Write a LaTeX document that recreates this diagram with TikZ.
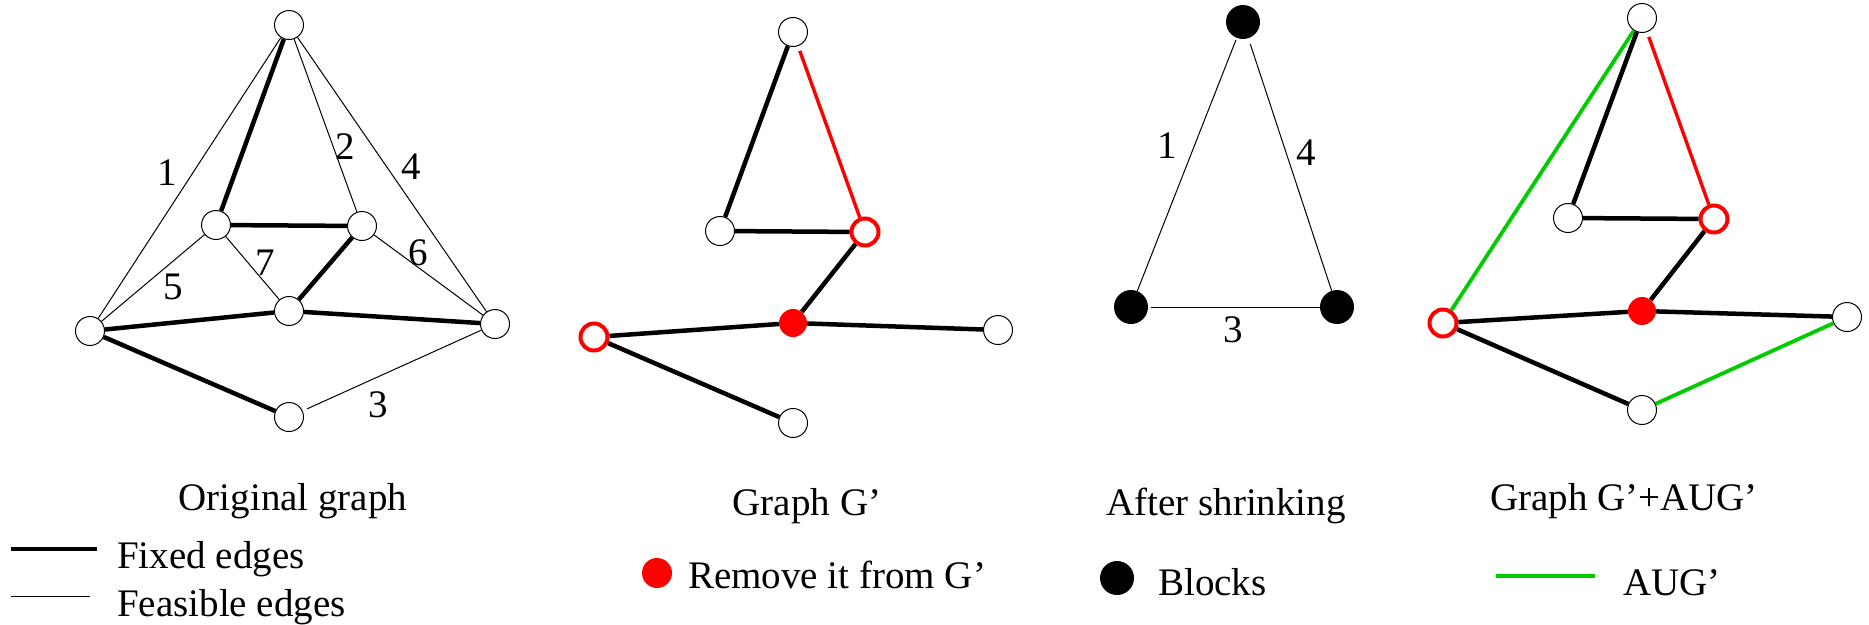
\documentclass[tikz,border=0pt]{standalone}
\usepackage{fontspec}
\setmainfont{Liberation Serif}
\definecolor{augGreen}{RGB}{0,204,0}
\begin{document}
\begin{tikzpicture}[x=1pt,y=-1pt,
  every node/.style={font=\fontsize{39}{44}\selectfont},
  vtx/.style={circle,draw=black,line width=1pt,fill=white,minimum size=29pt,inner sep=0pt},
  vred/.style={circle,draw=red,line width=4pt,fill=white,minimum size=27pt,inner sep=0pt},
  vredf/.style={circle,fill=red,minimum size=28pt,inner sep=0pt},
  vblk/.style={circle,fill=black,minimum size=34pt,inner sep=0pt},
  fixed/.style={line width=4.5pt,draw=black},
  feas/.style={line width=1pt,draw=black},
  remedge/.style={line width=3.4pt,draw=red},
  aug/.style={line width=3.8pt,draw=augGreen},
  lbl/.style={inner sep=0pt,anchor=center},
  captext/.style={inner sep=0pt,anchor=base},
  legtext/.style={inner sep=0pt,anchor=base west}]
\useasboundingbox (0,0) rectangle (1869,624);

% ---- Original graph ----
\node[vtx] (T)  at (289,25)  {};
\node[vtx] (A)  at (216,225) {};
\node[vtx] (B)  at (362,226) {};
\node[vtx] (C)  at (289,311) {};
\node[vtx] (L)  at (90,331)  {};
\node[vtx] (R)  at (495,324) {};
\node[vtx] (Bo) at (289,417) {};
\draw[feas] (T) -- (L);
\draw[feas] (T) -- (B);
\draw[feas] (T) -- (R);
\draw[feas] (A) -- (L);
\draw[feas] (A) -- (C);
\draw[feas] (B) -- (R);
\draw[feas,shorten <=5pt] (Bo) -- (R);
\draw[fixed] (T) -- (A);
\draw[fixed] (A) -- (B);
\draw[fixed] (B) -- (C);
\draw[fixed] (C) -- (L);
\draw[fixed] (C) -- (R);
\draw[fixed] (L) -- (Bo);
\node[lbl] (e1) at (167,173) {1};
\node[lbl] (e2) at (345,147) {2};
\node[lbl] (e4) at (411,167) {4};
\node[lbl] (e5) at (173,287) {5};
\node[lbl] (e7) at (265,263) {7};
\node[lbl] (e6) at (418,253) {6};
\node[lbl] (e3) at (378,405) {3};
\node[captext] (c1) at (293,510) {Original graph};

% ---- Graph G' ----
\node[vtx]   (T2)  at (793,32)  {};
\node[vtx]   (A2)  at (720,231) {};
\node[vred]  (B2)  at (865,232) {};
\node[vredf] (C2)  at (793,323) {};
\node[vred]  (L2)  at (594,337) {};
\node[vtx]   (R2)  at (998,330) {};
\node[vtx]   (Bo2) at (793,423) {};
\draw[fixed] (T2) -- (A2);
\draw[remedge,shorten <=5pt] (T2) -- (B2);
\draw[fixed] (A2) -- (B2);
\draw[fixed] (B2) -- (C2);
\draw[fixed] (C2) -- (L2);
\draw[fixed] (C2) -- (R2);
\draw[fixed] (L2) -- (Bo2);
\node[captext] (c2) at (807,515) {Graph G’};

% ---- After shrinking ----
\node[vblk] (S1) at (1243,22)  {};
\node[vblk] (S2) at (1131,307) {};
\node[vblk] (S3) at (1337,307) {};
\draw[feas,shorten <=2pt] (S1) -- (S2);
\draw[feas,shorten <=6pt] (S1) -- (S3);
\draw[feas,shorten <=3pt] (S2) -- (S3);
\node[lbl] (f1) at (1167,146) {1};
\node[lbl] (f4) at (1306,153) {4};
\node[lbl] (f3) at (1233,330) {3};
\node[captext] (c3) at (1226,515) {After shrinking};

% ---- Graph G'+AUG' ----
\node[vtx]   (T4)  at (1642,18)  {};
\node[vtx]   (A4)  at (1568,218) {};
\node[vred]  (B4)  at (1714,219) {};
\node[vredf] (C4)  at (1642,311) {};
\node[vred]  (L4)  at (1443,323) {};
\node[vtx]   (R4)  at (1847,317) {};
\node[vtx]   (Bo4) at (1642,410) {};
\draw[aug] (T4) -- (L4);
\draw[fixed] (T4) -- (A4);
\draw[remedge,shorten <=5pt] (T4) -- (B4);
\draw[fixed] (A4) -- (B4);
\draw[fixed] (B4) -- (C4);
\draw[fixed] (C4) -- (L4);
\draw[fixed] (C4) -- (R4);
\draw[fixed] (L4) -- (Bo4);
\draw[aug] (Bo4) -- (R4);
\node[captext] (c4) at (1624,510) {Graph G’+AUG’};

% ---- Legend ----
\coordinate (fx0) at (11,549);
\coordinate (fx1) at (97,549);
\draw[fixed] (fx0) -- (fx1);
\node[legtext] (lfx) at (117,568) {Fixed edges};
\coordinate (fs0) at (11,596);
\coordinate (fs1) at (90,596);
\draw[feas] (fs0) -- (fs1);
\node[legtext] (lfs) at (117,616) {Feasible edges};
\node[vredf,minimum size=30pt] (dred) at (657,573) {};
\node[legtext] (lrm) at (688,588) {Remove it from G’};
\node[vblk] (dblk) at (1117,578) {};
\node[legtext] (lbk) at (1158,595) {Blocks};
\coordinate (ag0) at (1496,576);
\coordinate (ag1) at (1595,576);
\draw[aug] (ag0) -- (ag1);
\node[legtext] (lag) at (1623,595) {AUG’};
\end{tikzpicture}
\end{document}
